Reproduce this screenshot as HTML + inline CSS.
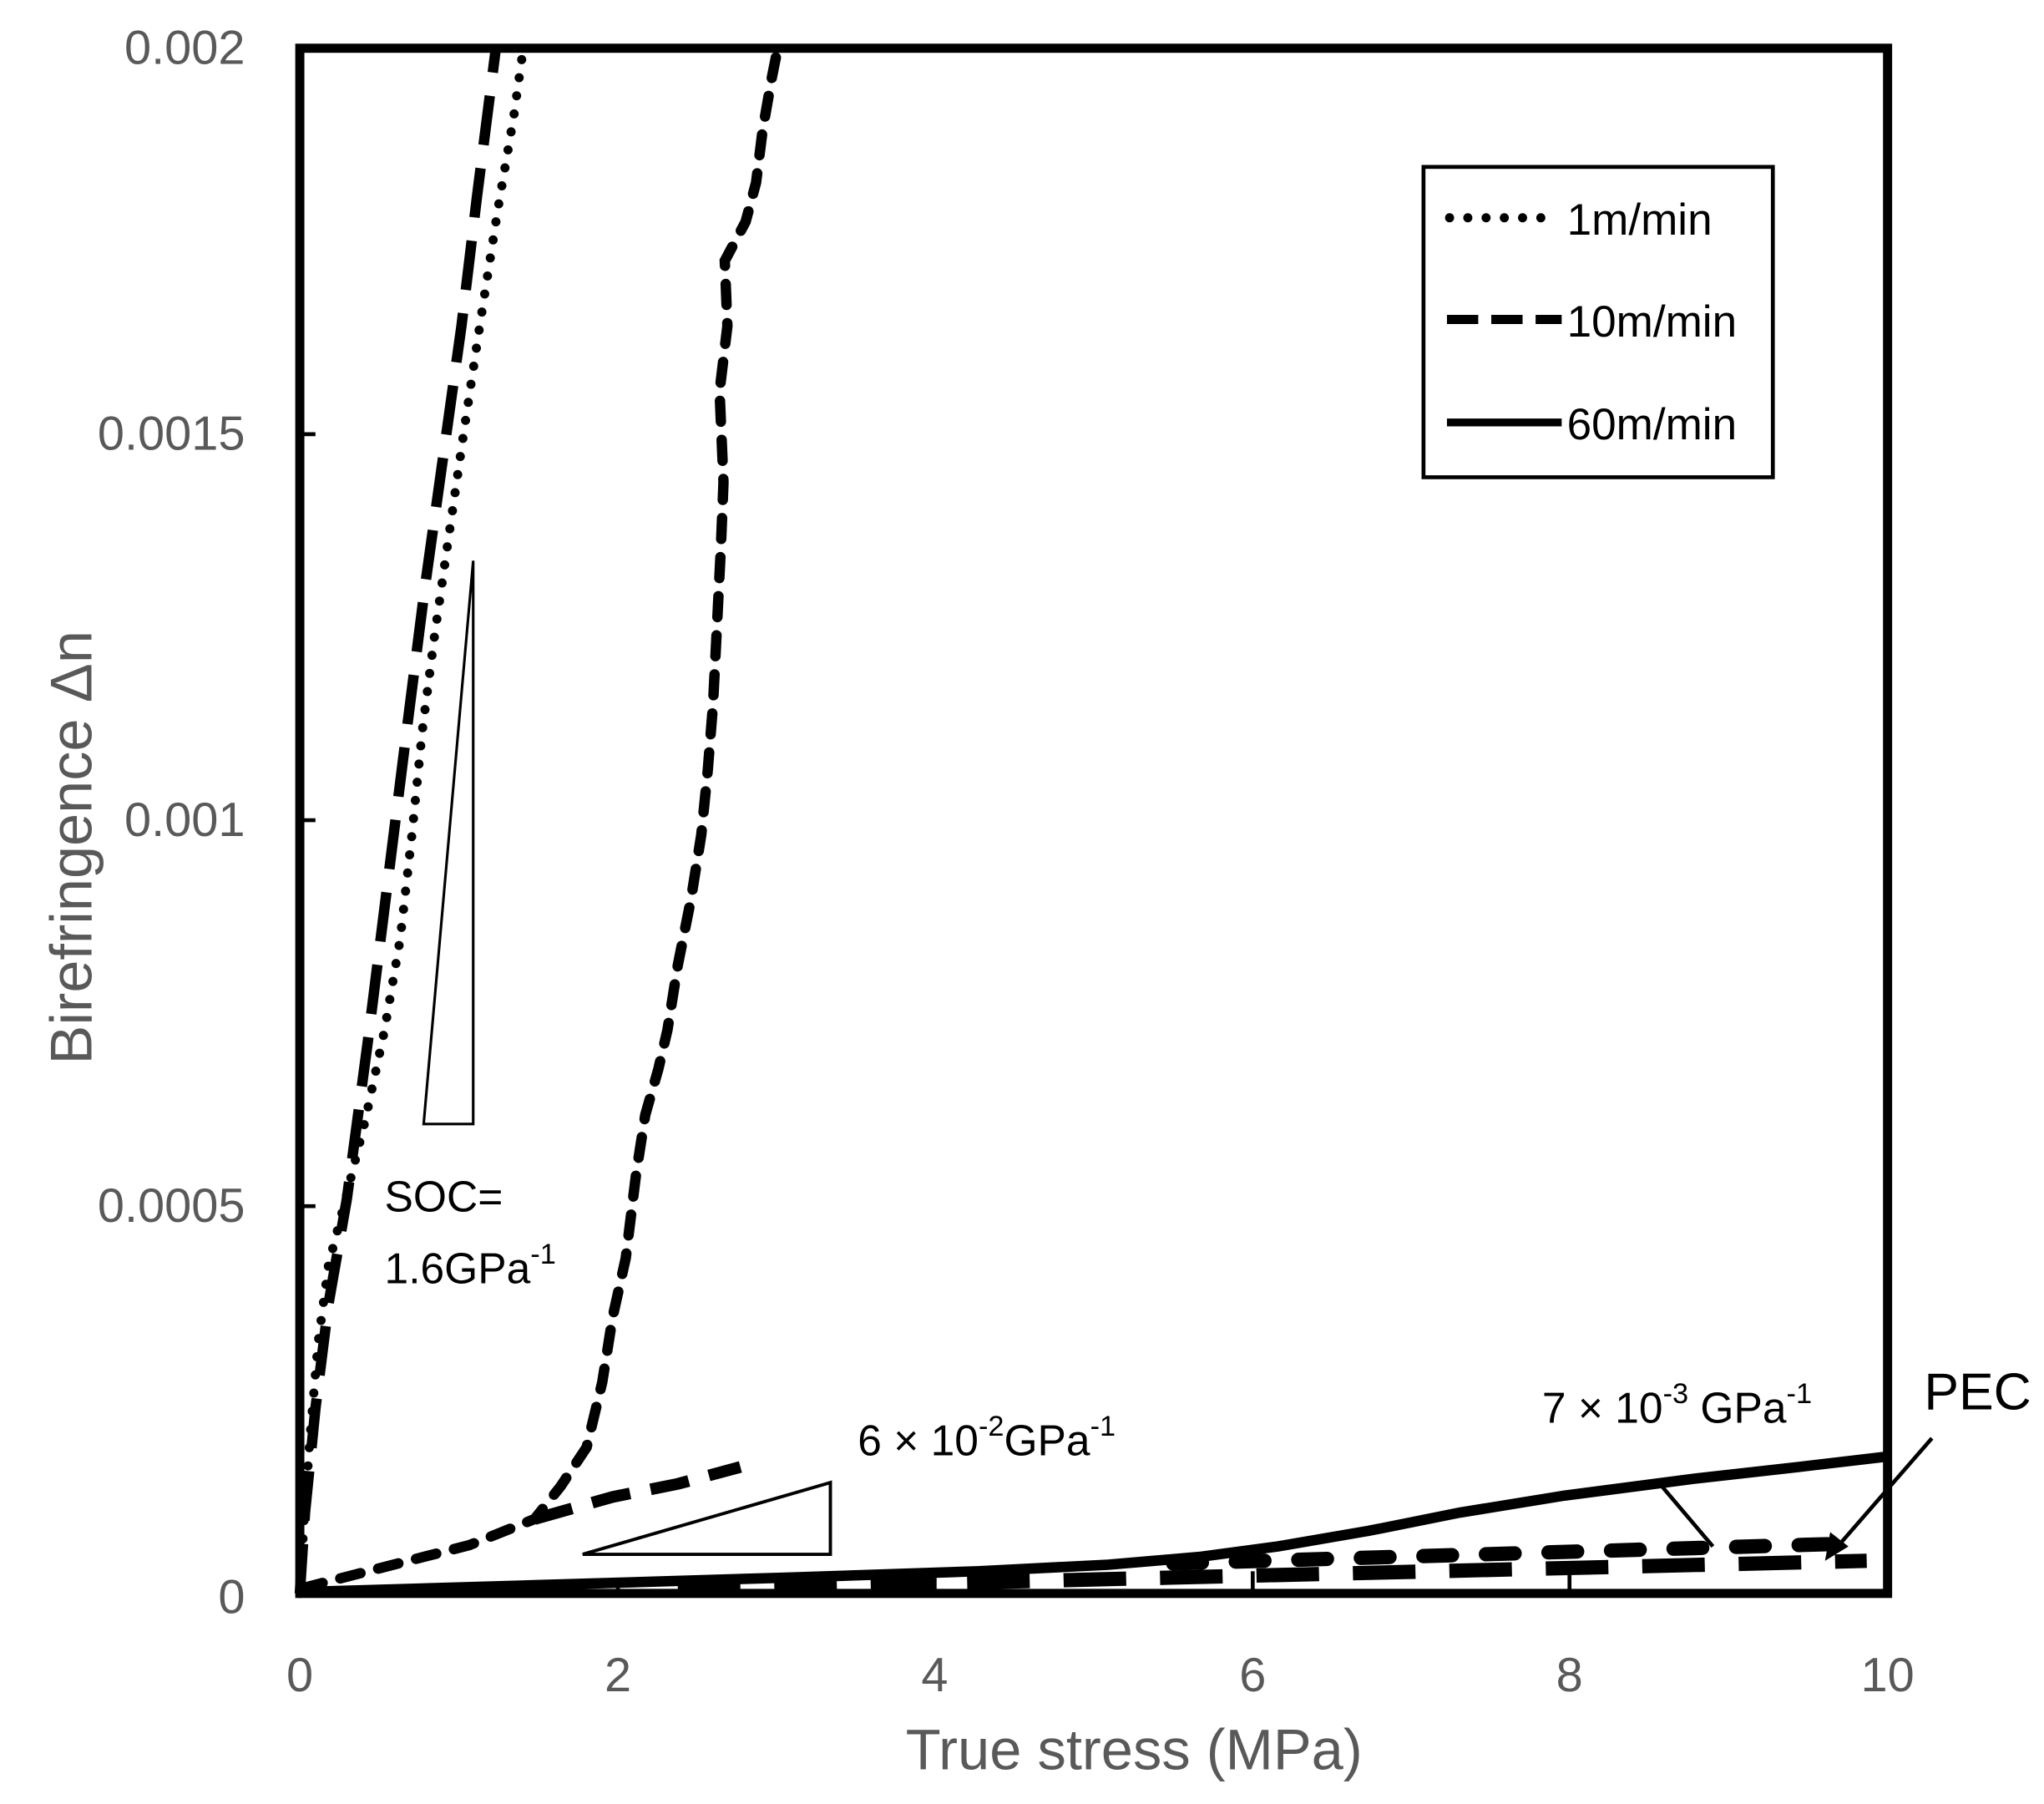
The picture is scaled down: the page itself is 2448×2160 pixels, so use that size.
<!DOCTYPE html>
<html><head><meta charset="utf-8"><style>
html,body{margin:0;padding:0;background:#fff;}
svg{display:block;}
text{font-family:"Liberation Sans",sans-serif;}
</style></head><body>
<svg width="2448" height="2160" viewBox="0 0 1568 1383.5" preserveAspectRatio="none" xmlns="http://www.w3.org/2000/svg">
<rect x="0" y="0" width="1568" height="1384" fill="#fff"/>
<g stroke="#000" stroke-width="3">
<line x1="230" y1="333" x2="242" y2="333"/>
<line x1="230" y1="629" x2="242" y2="629"/>
<line x1="230" y1="925" x2="242" y2="925"/>
<line x1="474" y1="1222" x2="474" y2="1210"/>
<line x1="717" y1="1222" x2="717" y2="1210"/>
<line x1="961" y1="1222" x2="961" y2="1205"/>
<line x1="1204" y1="1222" x2="1204" y2="1205"/>
</g>
<g fill="#595959" font-size="37" text-anchor="end">
<text x="188" y="49">0.002</text>
<text x="188" y="345">0.0015</text>
<text x="188" y="641">0.001</text>
<text x="188" y="937">0.0005</text>
<text x="188" y="1237">0</text>
</g>
<g fill="#595959" font-size="37" text-anchor="middle">
<text x="230" y="1297">0</text>
<text x="474" y="1297">2</text>
<text x="717" y="1297">4</text>
<text x="961" y="1297">6</text>
<text x="1204" y="1297">8</text>
<text x="1448" y="1297">10</text>
</g>
<text x="870" y="1357" fill="#595959" font-size="44" text-anchor="middle">True stress (MPa)</text>
<text transform="translate(70,650) rotate(-90)" fill="#595959" font-size="45" text-anchor="middle">Birefringence Δn</text>

<polygon points="325,862 363,862 363,430" fill="none" stroke="#000" stroke-width="2"/>
<polygon points="447,1192 637,1192 637,1137" fill="none" stroke="#000" stroke-width="2.5"/>

<polyline fill="none" stroke="#000" stroke-width="7" stroke-linecap="round" stroke-dasharray="0 14"
points="230,1222 233,1170 238,1100 244,1030 252,970 265,920 280,860 295,790 307,720 316,640 324,560 333,490 343,420 356,330 368,250 382,160 394,90 401,40"/>
<polyline fill="none" stroke="#000" stroke-width="8" stroke-dasharray="38 18"
points="230,1222 234,1160 242,1080 252,1000 266,920 282,800 297,680 312,560 326,450 340,350 354,250 366,150 380,40"/>
<polyline fill="none" stroke="#000" stroke-width="8" stroke-linecap="round" stroke-dasharray="16 14"
points="232,1218 290,1203 360,1185 410,1165 430,1140 450,1110 462,1060 470,1010 480,965 488,900 495,855 505,820 512,790 520,740 530,690 538,640 543,590 547,540 550,480 553,420 555,370 552,300 558,250 556,200 572,170 580,140 585,100 592,60 596,40"/>
<polyline fill="none" stroke="#000" stroke-width="9" stroke-dasharray="30 16"
points="410,1165 470,1148 520,1138 568,1125"/>
<line x1="520" y1="1219" x2="1432" y2="1197" stroke="#000" stroke-width="11" stroke-dasharray="48 26"/>
<line x1="900" y1="1199" x2="1410" y2="1184" stroke="#000" stroke-width="11" stroke-linecap="round" stroke-dasharray="22 26"/>
<polyline fill="none" stroke="#000" stroke-width="8"
points="230,1221 400,1216 600,1210 750,1205 850,1200 920,1194 980,1186 1050,1174 1120,1160 1200,1147 1300,1134 1380,1125 1448,1117"/>

<line x1="1275" y1="1140" x2="1314" y2="1186" stroke="#000" stroke-width="3"/>
<line x1="1482" y1="1103" x2="1408" y2="1188" stroke="#000" stroke-width="3"/>
<polygon points="1400,1197 1404,1175 1418,1186" fill="#000"/>

<g fill="#000" font-size="33">
<text x="295" y="929">SOC=</text>
<text x="295" y="984">1.6GPa<tspan font-size="22" dy="-15">-1</tspan></text>
<text x="658" y="1116">6 × 10<tspan font-size="22" dy="-15">-2</tspan><tspan dy="15">GPa</tspan><tspan font-size="22" dy="-15">-1</tspan></text>
<text x="1183" y="1091">7 × 10<tspan font-size="22" dy="-15">-3</tspan><tspan dy="15"> GPa</tspan><tspan font-size="22" dy="-15">-1</tspan></text>
<text x="1476" y="1081" font-size="40">PEC</text>
</g>

<rect x="1092" y="128" width="268" height="238" fill="#fff" stroke="#000" stroke-width="3"/>
<line x1="1112" y1="167" x2="1196" y2="167" stroke="#000" stroke-width="7" stroke-linecap="round" stroke-dasharray="0 14"/>
<line x1="1110" y1="245" x2="1198" y2="245" stroke="#000" stroke-width="7" stroke-dasharray="24 10"/>
<line x1="1110" y1="324" x2="1198" y2="324" stroke="#000" stroke-width="6"/>
<g fill="#000" font-size="34">
<text x="1202" y="180">1m/min</text>
<text x="1202" y="258">10m/min</text>
<text x="1202" y="337">60m/min</text>
</g>

<rect x="230" y="37" width="1218" height="1185" fill="none" stroke="#000" stroke-width="7"/>
</svg>
</body></html>
